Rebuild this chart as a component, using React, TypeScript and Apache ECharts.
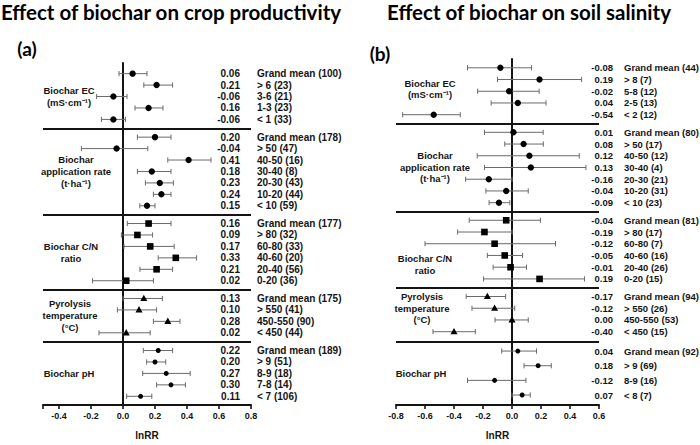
import React, { useEffect, useRef } from 'react';
import * as echarts from 'echarts';

// ---- Panel (a): crop productivity ----
const groupsA = [
  'Biochar EC\n(mS·cm⁻¹)',
  'Biochar\napplication rate\n(t·ha⁻¹)',
  'Biochar C/N\nratio',
  'Pyrolysis\ntemperature\n(°C)',
  'Biochar pH',
];
const groupSizesA = [5, 7, 6, 4, 5];
const catsA = [
  'Grand mean (100)', '> 6 (23)', '3-6 (21)', '1-3 (23)', '< 1 (33)',
  'Grand mean (178)', '> 50 (47)', '40-50 (16)', '30-40 (8)', '20-30 (43)', '10-20 (44)', '< 10 (59)',
  'Grand mean (177)', '> 80 (32)', '60-80 (33)', '40-60 (20)', '20-40 (56)', '0-20 (36)',
  'Grand mean (175)', '> 550 (41)', '450-550 (90)', '< 450 (44)',
  'Grand mean (189)', '> 9 (51)', '8-9 (18)', '7-8 (14)', '< 7 (106)',
];
const meanA = [
  0.06, 0.21, -0.06, 0.16, -0.06,
  0.20, -0.04, 0.41, 0.18, 0.23, 0.24, 0.15,
  0.16, 0.09, 0.17, 0.33, 0.21, 0.02,
  0.13, 0.10, 0.28, 0.02,
  0.22, 0.20, 0.27, 0.30, 0.11,
];
const lowA = [
  -0.025, 0.13, -0.165, 0.075, -0.135,
  0.09, -0.26, 0.28, 0.09, 0.14, 0.19, 0.105,
  0.027, -0.01, 0.006, 0.22, 0.106, -0.19,
  0.0, -0.035, 0.19, -0.15,
  0.127, 0.148, 0.123, 0.21, 0.023,
];
const highA = [
  0.15, 0.31, 0.025, 0.25, 0.015,
  0.30, 0.155, 0.55, 0.30, 0.315, 0.30, 0.20,
  0.30, 0.185, 0.32, 0.46, 0.31, 0.19,
  0.246, 0.21, 0.356, 0.17,
  0.31, 0.267, 0.42, 0.39, 0.18,
];
const tickLabelsA = [-0.4, -0.2, 0.0, 0.2, 0.4, 0.6, 0.8];

// ---- Panel (b): soil salinity ----
const groupsB = [
  'Biochar EC\n(mS·cm⁻¹)',
  'Biochar\napplication rate\n(t·ha⁻¹)',
  'Biochar C/N\nratio',
  'Pyrolysis\ntemperature\n(°C)',
  'Biochar pH',
];
const groupSizesB = [5, 7, 6, 4, 4];
const catsB = [
  'Grand mean (44)', '> 8 (7)', '5-8 (12)', '2-5 (13)', '< 2 (12)',
  'Grand mean (80)', '> 50 (17)', '40-50 (12)', '30-40 (4)', '20-30 (21)', '10-20 (31)', '< 10 (23)',
  'Grand mean (81)', '> 80 (17)', '60-80 (7)', '40-60 (16)', '20-40 (26)', '0-20 (15)',
  'Grand mean (94)', '> 550 (26)', '450-550 (53)', '< 450 (15)',
  'Grand mean (92)', '> 9 (69)', '8-9 (16)', '< 8 (7)',
];
const meanB = [
  -0.08, 0.19, -0.02, 0.04, -0.54,
  0.01, 0.08, 0.12, 0.13, -0.16, -0.04, -0.09,
  -0.04, -0.19, -0.12, -0.05, -0.01, 0.19,
  -0.17, -0.12, 0.00, -0.40,
  0.04, 0.18, -0.12, 0.07,
];
const lowB = [
  -0.307, -0.10, -0.237, -0.144, -0.754,
  -0.19, -0.05, -0.24, -0.19, -0.32, -0.18, -0.158,
  -0.295, -0.375, -0.60, -0.17, -0.13, -0.196,
  -0.316, -0.276, -0.117, -0.545,
  -0.071, 0.083, -0.307, 0.0,
];
const highB = [
  0.135, 0.48, 0.187, 0.235, -0.357,
  0.215, 0.216, 0.464, 0.51, 0.0, 0.112, -0.015,
  0.196, 0.0, 0.30, 0.073, 0.10, 0.50,
  -0.044, 0.019, 0.112, -0.253,
  0.169, 0.271, 0.096, 0.126,
];
const tickLabelsB = [-0.8, -0.6, -0.4, -0.2, 0.0, 0.2, 0.4, 0.6];

const FONT = '"Liberation Sans", Arial, sans-serif';
const TITLE_FONT = 'Lato, sans-serif';
const INK = '#141414';
const BAR = '#6a6a6a';
// marker shape for each factor group
const SHAPES = ['circle', 'circle', 'square', 'triangle', 'dot'];

type PanelLayout = {
  gaps: number[]; // row distance between consecutive groups
  steps: number[]; // row step inside each group
  labelX: number[]; // group label centre (px)
  labelShift: number[]; // group label vertical shift (px)
  labelFont: number;
  labelLine: number;
  valueDx: number; // value text right edge, relative to plot right edge
  catDx: number; // category text left edge, relative to plot right edge
  textFont: number;
};

function layoutRows(sizes: number[], gaps: number[], steps: number[]) {
  const rows: number[] = [];
  const centers: number[] = [];
  const seps: number[] = [];
  let y = 0;
  sizes.forEach((n, g) => {
    const start = y;
    for (let i = 0; i < n; i++) {
      rows.push(y);
      if (i < n - 1) y += steps[g];
    }
    centers.push((start + y) / 2);
    if (g < sizes.length - 1) {
      seps.push(y + gaps[g] / 2);
      y += gaps[g];
    }
  });
  return { rows, centers, seps };
}

function buildPanel(
  idx: number,
  groups: string[],
  sizes: number[],
  cats: string[],
  mean: number[],
  low: number[],
  high: number[],
  xMax: number,
  L: PanelLayout
) {
  const { rows, centers, seps } = layoutRows(sizes, L.gaps, L.steps);
  const groupOf: number[] = [];
  sizes.forEach((n, g) => {
    for (let i = 0; i < n; i++) groupOf.push(g);
  });
  const data = mean.map((m, i) => [low[i], high[i], m, rows[i], groupOf[i], i]);

  const forest = {
    type: 'custom',
    xAxisIndex: idx,
    yAxisIndex: idx,
    silent: true,
    clip: false,
    encode: { x: [0, 1, 2], y: 3 },
    data,
    renderItem: (_p: any, api: any) => {
      const y = api.value(3);
      const g = api.value(4);
      const r = api.value(5);
      const lo = api.coord([api.value(0), y]);
      const hi = api.coord([api.value(1), y]);
      const c = api.coord([api.value(2), y]);
      const right = api.coord([xMax, y])[0];
      const cap = 2.6;
      const lineStyle = { stroke: BAR, lineWidth: 1 };
      const children: any[] = [
        { type: 'line', shape: { x1: lo[0], y1: lo[1], x2: hi[0], y2: hi[1] }, style: lineStyle },
        { type: 'line', shape: { x1: lo[0], y1: lo[1] - cap, x2: lo[0], y2: lo[1] + cap }, style: lineStyle },
        { type: 'line', shape: { x1: hi[0], y1: hi[1] - cap, x2: hi[0], y2: hi[1] + cap }, style: lineStyle },
      ];
      const shape = SHAPES[g];
      const fill = { fill: '#000' };
      if (shape === 'circle') {
        children.push({ type: 'circle', shape: { cx: c[0], cy: c[1], r: 3.2 }, style: fill });
      } else if (shape === 'dot') {
        children.push({ type: 'circle', shape: { cx: c[0], cy: c[1], r: 2.5 }, style: fill });
      } else if (shape === 'square') {
        children.push({ type: 'rect', shape: { x: c[0] - 3.3, y: c[1] - 3.3, width: 6.6, height: 6.6 }, style: fill });
      } else {
        children.push({
          type: 'polygon',
          shape: { points: [[c[0], c[1] - 3.8], [c[0] + 3.5, c[1] + 2.6], [c[0] - 3.5, c[1] + 2.6]] },
          style: fill,
        });
      }
      children.push({
        type: 'text',
        style: {
          text: mean[r].toFixed(2),
          x: right + L.valueDx,
          y: c[1],
          font: `bold ${L.textFont}px ${FONT}`,
          fill: INK,
          textAlign: 'right',
          textVerticalAlign: 'middle',
        },
      });
      children.push({
        type: 'text',
        style: {
          text: cats[r],
          x: right + L.catDx,
          y: c[1],
          font: `bold ${L.textFont}px ${FONT}`,
          fill: INK,
          textAlign: 'left',
          textVerticalAlign: 'middle',
        },
      });
      return { type: 'group', children };
    },
    markLine: {
      silent: true,
      symbol: 'none',
      label: { show: false },
      lineStyle: { color: INK, width: 2, type: 'solid' },
      data: seps.map((v) => ({ yAxis: v })),
    },
  };

  const labels = {
    type: 'custom',
    xAxisIndex: idx,
    yAxisIndex: idx,
    silent: true,
    clip: false,
    encode: { y: 0 },
    data: centers.map((c, g) => [c, g]),
    renderItem: (_p: any, api: any) => {
      const g = api.value(1);
      const p = api.coord([0, api.value(0)]);
      return {
        type: 'text',
        style: {
          text: groups[g],
          x: L.labelX[g],
          y: p[1] + L.labelShift[g],
          font: `bold ${L.labelFont}px ${FONT}`,
          lineHeight: L.labelLine,
          fill: INK,
          textAlign: 'center',
          textVerticalAlign: 'middle',
        },
      };
    },
  };

  return [forest, labels];
}

const layoutA: PanelLayout = {
  gaps: [1.55, 1.55, 1.55, 1.55],
  steps: [1, 1, 1, 1, 1],
  labelX: [69, 76, 71, 70, 69],
  labelShift: [0, 0, 0, 0, 0],
  labelFont: 9.5,
  labelLine: 12,
  valueDx: -11,
  catDx: 6,
  textFont: 10,
};

const layoutB: PanelLayout = {
  gaps: [1.5, 1.5, 1.5, 1.65],
  steps: [1, 1, 1, 1, 1.25],
  labelX: [430, 435, 425, 422, 421],
  labelShift: [-2.5, 0, 15, -6, 0],
  labelFont: 9.5,
  labelLine: 11.5,
  valueDx: 14,
  catDx: 25,
  textFont: 9.5,
};

const axisLabelStyle = {
  fontFamily: FONT,
  fontWeight: 'bold' as const,
  fontSize: 9,
  color: INK,
  margin: 6,
};

function xAxisFor(idx: number, min: number, max: number, tickVals: number[], labelVals: number[]) {
  return {
    type: 'value',
    gridIndex: idx,
    min,
    max,
    name: 'lnRR',
    nameLocation: 'middle',
    nameGap: 25,
    nameTextStyle: { fontFamily: FONT, fontWeight: 'bold', fontSize: 10, color: INK },
    axisLine: { show: true, onZero: false, lineStyle: { color: INK, width: 2 } },
    axisTick: { show: true, length: 4, lineStyle: { color: INK, width: 1.6 }, customValues: tickVals },
    axisLabel: { ...axisLabelStyle, customValues: labelVals, formatter: (v: number) => v.toFixed(1) },
    splitLine: { show: false },
  };
}

function yAxisFor(idx: number, min: number, max: number) {
  return {
    type: 'value',
    gridIndex: idx,
    inverse: true,
    min,
    max,
    axisLine: { show: true, onZero: true, lineStyle: { color: INK, width: 2 } },
    axisTick: { show: false },
    axisLabel: { show: false },
    splitLine: { show: false },
  };
}

function titleText(text: string, x: number, y: number, size: number) {
  return {
    type: 'text',
    x,
    y,
    style: {
      text,
      font: `bold ${size}px ${TITLE_FONT}`,
      fill: '#000',
      textAlign: 'center',
      textVerticalAlign: 'middle',
    },
  };
}

export default function App() {
  const ref = useRef<HTMLDivElement>(null);
  useEffect(() => {
    if (!ref.current) return;
    const chart = echarts.init(ref.current, undefined, { renderer: 'svg' });
    const option = {
      animation: false,
      backgroundColor: '#ffffff',
      grid: [
        { left: 43, top: 63, width: 208, height: 352 },
        { left: 396, top: 59, width: 203, height: 354 },
      ],
      xAxis: [
        xAxisFor(0, -0.5, 0.8, [-0.5, ...tickLabelsA], tickLabelsA),
        xAxisFor(1, -0.8, 0.6, tickLabelsB, tickLabelsB),
      ],
      yAxis: [yAxisFor(0, -0.93, 28.96), yAxisFor(1, -0.75, 28.75)],
      graphic: [
        titleText('Effect of biochar on crop productivity', 171, 12, 20.5),
        titleText('Effect of biochar on soil salinity', 529, 12, 20.5),
        titleText('(a)', 27, 48, 19),
        titleText('(b)', 380, 53, 19),
      ],
      series: [
        ...buildPanel(0, groupsA, groupSizesA, catsA, meanA, lowA, highA, 0.8, layoutA),
        ...buildPanel(1, groupsB, groupSizesB, catsB, meanB, lowB, highB, 0.6, layoutB),
      ],
    };
    chart.setOption(option as any);
    return () => chart.dispose();
  }, []);
  return (
    <div
      ref={ref}
      style={{ position: 'fixed', left: 0, top: 0, width: 700, height: 445, background: '#fff' }}
    />
  );
}
